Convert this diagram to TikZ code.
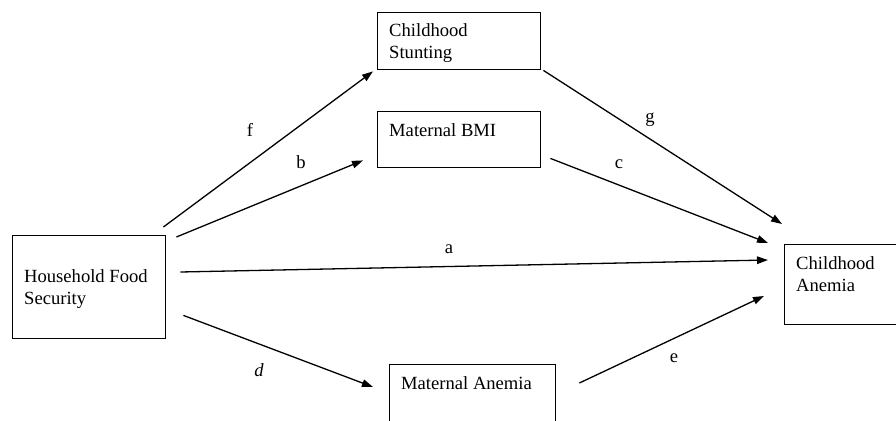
\documentclass[tikz,border=0pt]{standalone}
\usepackage{fontspec}
\setmainfont{Liberation Serif}
\usetikzlibrary{arrows.meta}
\begin{document}
\begin{tikzpicture}[x=1pt,y=-1pt,
  box/.style={draw=black, line width=1.4pt, inner sep=0pt, anchor=north west},
  txt/.style={anchor=north west, inner sep=0pt, align=left, font=\fontsize{18.6}{22}\selectfont},
  lbl/.style={inner sep=0pt, font=\fontsize{18.6}{22}\selectfont},
  arr/.style={line width=1.3pt, -{Triangle[length=11pt,width=7.5pt]}}]
\useasboundingbox (0,0) rectangle (896,420);
% boxes
\node[box, minimum width=153pt, minimum height=103pt] (hfs) at (12,235) {};
\node[box, minimum width=163pt, minimum height=57pt] (stunt) at (377,12) {};
\node[box, minimum width=163pt, minimum height=56pt] (bmi) at (377,111) {};
\node[box, minimum width=130pt, minimum height=80pt] (ca) at (784,244) {};
\node[box, minimum width=166pt, minimum height=80pt] (ma) at (389,364) {};
% texts
\node[txt] (thfs) at (24,269) {Household Food\\Security};
\node[txt] (tstunt) at (389,23) {Childhood\\Stunting};
\node[txt] (tbmi) at (389,123) {Maternal BMI};
\node[txt] (tca) at (796,256) {Childhood\\Anemia};
\node[txt] (tma) at (401,376) {Maternal Anemia};
% arrows
\draw[arr] ([shift={(-3,-8)}]hfs.north east) -- ([shift={(-4,1)}]stunt.south west);
\draw[arr] ([shift={(10,2)}]hfs.north east) -- ([shift={(-14,-8)}]bmi.south west);
\draw[arr] ([shift={(14,37)}]hfs.north east) -- ([shift={(-16,16)}]ca.north west);
\draw[arr] ([shift={(17,-24)}]hfs.south east) -- ([shift={(-16,23)}]ma.north west);
\draw[arr] ([shift={(23,19)}]ma.north east) -- ([shift={(-20,52)}]ca.north west);
\draw[arr] ([shift={(2,0)}]stunt.south east) -- ([shift={(-2,-20)}]ca.north west);
\draw[arr] ([shift={(9,-10)}]bmi.south east) -- ([shift={(-16,-1)}]ca.north west);
% labels
\node[lbl] (lf) at (250,130) {f};
\node[lbl] (lb) at (301,162) {b};
\node[lbl] (lg) at (650,120) {g};
\node[lbl] (lc) at (619,164) {c};
\node[lbl] (la) at (449,249) {a};
\node[lbl] (ld) at (259,370) {\itshape d};
\node[lbl] (le) at (674,358) {e};
\end{tikzpicture}
\end{document}
